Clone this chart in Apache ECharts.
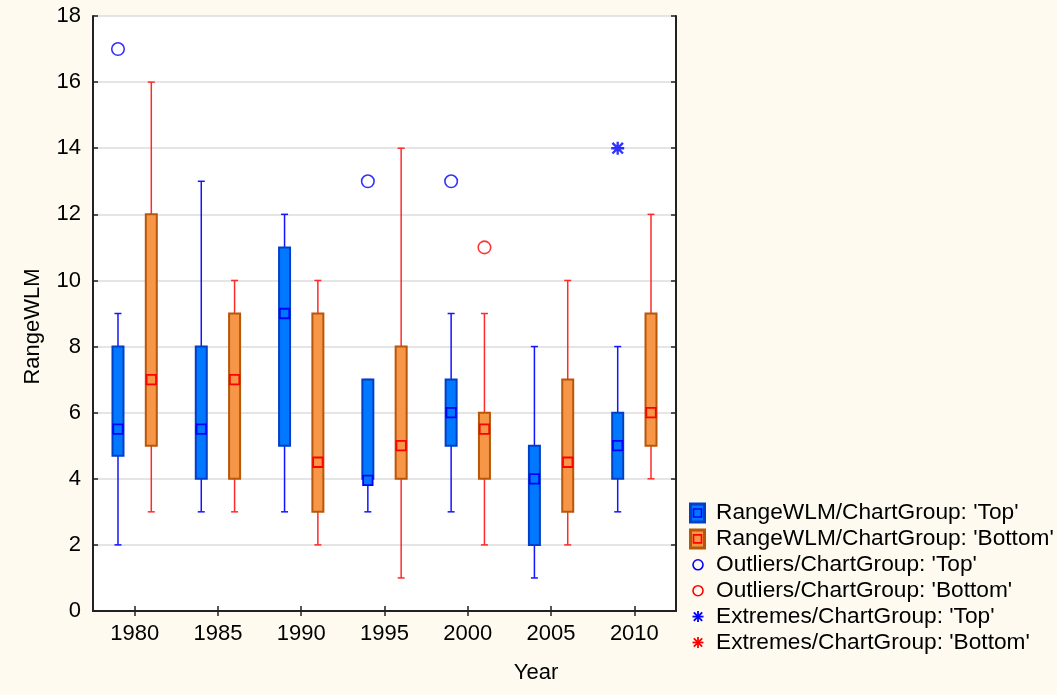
<!DOCTYPE html>
<html>
<head>
<meta charset="utf-8">
<script src="https://cdn.jsdelivr.net/npm/echarts@6/dist/echarts.min.js"></script>
<style>
  html, body { margin: 0; padding: 0; background: #fefaf0; }
  #chart { width: 1057px; height: 695px; }
</style>
</head>
<body>
<div id="chart"></div>
<script>
// 年份（横坐标）
const years = [1980, 1985, 1990, 1995, 2000, 2005, 2010];

// Top 组：须下端、Q1、中位、Q3、须上端
const topLow  = [2, 3, 3, 3, 3, 1, 3];
const topQ1   = [4.7, 4, 5, 4, 5, 2, 4];
const topMid  = [5.5, 5.5, 9, 3.95, 6, 4, 5];
const topQ3   = [8, 8, 11, 7, 7, 5, 6];
const topHigh = [9, 13, 12, 7, 9, 8, 8];

// Bottom 组
const botLow  = [3, 3, 2, 1, 2, 2, 4];
const botQ1   = [5, 4, 3, 4, 4, 3, 5];
const botMid  = [7, 7, 4.5, 5, 5.5, 4.5, 6];
const botQ3   = [12, 9, 9, 8, 6, 7, 9];
const botHigh = [16, 10, 10, 14, 9, 10, 12];

// 离群值 / 极端值  [年份, 值]
const topOutliers = [[1980, 17], [1995, 13], [2000, 13]];
const botOutliers = [[2000, 11]];
const topExtremes = [[2010, 14]];
const botExtremes = [];

const legendNames = [
  "RangeWLM/ChartGroup: 'Top'",
  "RangeWLM/ChartGroup: 'Bottom'",
  "Outliers/ChartGroup: 'Top'",
  "Outliers/ChartGroup: 'Bottom'",
  "Extremes/ChartGroup: 'Top'",
  "Extremes/ChartGroup: 'Bottom'"
];

const BLUE = { fill: '#0078ff', edge: '#0040c8', line: '#1414ff', mark: '#0000ff' };
const ORANGE = { fill: '#f79646', edge: '#b8570a', line: '#ff2a2a', mark: '#ff0000' };
const FONT = 'Liberation Sans, Arial, sans-serif';
// 星号（极端值）
const STAR = 'path://M4.1,0L5.9,0L5.9,10L4.1,10Z M0,4.1L10,4.1L10,5.9L0,5.9Z M0.3,1.6L1.6,0.3L9.7,8.4L8.4,9.7Z M8.4,0.3L9.7,1.6L1.6,9.7L0.3,8.4Z';

function boxSeries(name, low, q1, mid, q3, high, shift, c) {
  return {
    type: 'custom',
    name: name,
    data: years.map((y, i) => [y + shift, low[i], q1[i], mid[i], q3[i], high[i]]),
    encode: { x: 0, y: [1, 2, 3, 4, 5] },
    z: 3,
    renderItem: function (params, api) {
      const x = api.value(0);
      const pLow = api.coord([x, api.value(1)]);
      const pQ1 = api.coord([x, api.value(2)]);
      const pMid = api.coord([x, api.value(3)]);
      const pQ3 = api.coord([x, api.value(4)]);
      const pHigh = api.coord([x, api.value(5)]);
      const cx = pLow[0];
      const ls = { stroke: c.line, lineWidth: 1.5 };
      return {
        type: 'group',
        children: [
          { type: 'line', shape: { x1: cx, y1: pLow[1], x2: cx, y2: pHigh[1] }, style: ls },
          { type: 'line', shape: { x1: cx - 3.5, y1: pLow[1], x2: cx + 3.5, y2: pLow[1] }, style: ls },
          { type: 'line', shape: { x1: cx - 3.5, y1: pHigh[1], x2: cx + 3.5, y2: pHigh[1] }, style: ls },
          { type: 'rect', shape: { x: cx - 5.5, y: pQ3[1], width: 11, height: pQ1[1] - pQ3[1] },
            style: { fill: c.fill, stroke: c.edge, lineWidth: 2 } },
          { type: 'rect', shape: { x: cx - 4.75, y: pMid[1] - 4.75, width: 9.5, height: 9.5 },
            style: { fill: c.fill, stroke: c.mark, lineWidth: 1.8 } }
        ]
      };
    }
  };
}

function pointSeries(name, pts, shift, symbol, color, hollow) {
  return {
    type: 'scatter',
    name: name,
    data: pts.map(p => [p[0] + shift, p[1]]),
    symbol: symbol,
    symbolSize: hollow ? 12.5 : 13,
    z: 4,
    itemStyle: hollow
      ? { color: 'rgba(255,255,255,0)', borderColor: color, borderWidth: 1.6 }
      : { color: color }
  };
}

// 图例（用 graphic 画，图标样式贴近原图）
function legendGraphic() {
  const items = [];
  const x0 = 689, tx = 716, y0 = 513, gap = 25.9;
  const cols = [BLUE, ORANGE];
  legendNames.forEach((n, i) => {
    const cy = y0 + i * gap;
    const c = cols[i % 2];
    const mx = x0 + 9;
    if (i < 2) {
      items.push({ type: 'rect', shape: { x: x0 + 1.5, y: cy - 9, width: 14, height: 18 },
        style: { fill: c.fill, stroke: c.edge, lineWidth: 3 } });
      items.push({ type: 'rect', shape: { x: x0 + 4.5, y: cy - 4, width: 8, height: 8 },
        style: { fill: c.fill, stroke: c.mark, lineWidth: 1.6 } });
    } else if (i < 4) {
      items.push({ type: 'circle', shape: { cx: mx, cy: cy, r: 5 },
        style: { fill: 'none', stroke: c.mark, lineWidth: 1.6 } });
    } else {
      const st = { stroke: c.mark, lineWidth: 1.8 };
      items.push({ type: 'line', shape: { x1: mx, y1: cy - 5.5, x2: mx, y2: cy + 5.5 }, style: st });
      items.push({ type: 'line', shape: { x1: mx - 5.5, y1: cy, x2: mx + 5.5, y2: cy }, style: st });
      items.push({ type: 'line', shape: { x1: mx - 4.2, y1: cy - 4.2, x2: mx + 4.2, y2: cy + 4.2 }, style: st });
      items.push({ type: 'line', shape: { x1: mx - 4.2, y1: cy + 4.2, x2: mx + 4.2, y2: cy - 4.2 }, style: st });
    }
    items.push({ type: 'text', x: tx, y: cy,
      style: { text: n, fontSize: 22.7, fontFamily: FONT, fill: '#000', verticalAlign: 'middle', align: 'left' } });
  });
  return items;
}

const chart = echarts.init(document.getElementById('chart'));
const tickStyle = { show: true, inside: true, length: 5, lineStyle: { color: '#222', width: 1.5 } };
const lineStyle = { show: true, lineStyle: { color: '#222', width: 2 } };

chart.setOption({
  backgroundColor: '#fefaf0',
  animation: false,
  grid: { left: 93, right: 381, top: 16, bottom: 84, show: true, backgroundColor: '#fff', borderWidth: 0 },
  xAxis: [
    { type: 'value', position: 'bottom', min: 1977.5, max: 2012.5,
      axisLine: lineStyle, axisTick: Object.assign({ customValues: years }, tickStyle),
      axisLabel: { customValues: years, formatter: v => String(v), fontSize: 22, fontFamily: FONT, color: '#000', margin: 12 },
      splitLine: { show: false } },
    { type: 'value', position: 'top', min: 1977.5, max: 2012.5,
      axisLine: lineStyle, axisTick: Object.assign({ customValues: years }, tickStyle),
      axisLabel: { show: false }, splitLine: { show: false } }
  ],
  yAxis: [
    { type: 'value', position: 'left', min: 0, max: 18, interval: 2,
      axisLine: lineStyle, axisTick: tickStyle,
      axisLabel: { fontSize: 22, fontFamily: FONT, color: '#000', margin: 12 },
      splitLine: { show: true, lineStyle: { color: '#dcdcdc', width: 1.5 } } },
    { type: 'value', position: 'right', min: 0, max: 18, interval: 2,
      axisLine: lineStyle, axisTick: tickStyle,
      axisLabel: { show: false }, splitLine: { show: false } }
  ],
  graphic: [
    { type: 'text', x: 33, y: 326.5, rotation: Math.PI / 2,
      style: { text: 'RangeWLM', fontSize: 22, fontFamily: FONT, fill: '#000', align: 'center', verticalAlign: 'middle' } },
    { type: 'text', x: 536, y: 672.5,
      style: { text: 'Year', fontSize: 22, fontFamily: FONT, fill: '#000', align: 'center', verticalAlign: 'middle' } }
  ].concat(legendGraphic()),
  series: [
    boxSeries(legendNames[0], topLow, topQ1, topMid, topQ3, topHigh, -1, BLUE),
    boxSeries(legendNames[1], botLow, botQ1, botMid, botQ3, botHigh, 1, ORANGE),
    pointSeries(legendNames[2], topOutliers, -1, 'circle', BLUE.mark, true),
    pointSeries(legendNames[3], botOutliers, 1, 'circle', ORANGE.mark, true),
    pointSeries(legendNames[4], topExtremes, -1, STAR, BLUE.mark, false),
    pointSeries(legendNames[5], botExtremes, 1, STAR, ORANGE.mark, false)
  ]
});
window.addEventListener('resize', () => { chart.resize(); });
</script>
</body>
</html>
